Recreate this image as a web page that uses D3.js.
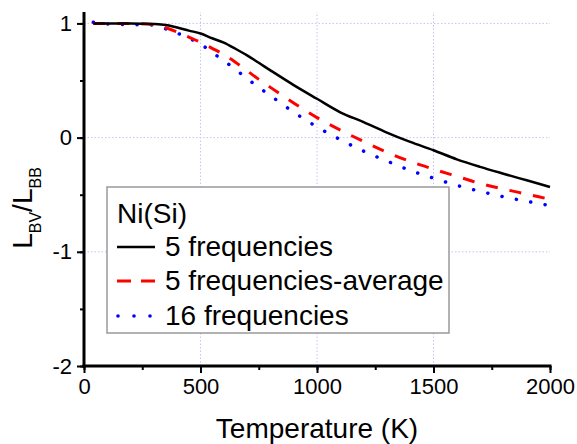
<!DOCTYPE html>
<html>
<head>
<meta charset="utf-8">
<script src="https://cdn.jsdelivr.net/npm/d3@7"></script>
<style>
  body { margin: 0; background: #fff; }
  svg { font-family: "Liberation Sans", Arial, sans-serif; }
</style>
</head>
<body>
<svg id="chart" width="577" height="444"></svg>
<script>
// temperature grid (K)
const temps = [40, 100, 200, 300, 350, 400, 450, 500, 550, 600, 650, 700, 750, 800,
  900, 1000, 1100, 1200, 1300, 1400, 1500, 1600, 1700, 1800, 1900, 2000];

const freq5 = [1.0, 1.0, 1.0, 0.995, 0.987, 0.965, 0.937, 0.912, 0.87, 0.832, 0.778, 0.72, 0.655, 0.589,
  0.46, 0.34, 0.222, 0.136, 0.044, -0.038, -0.111, -0.19, -0.256, -0.316, -0.374, -0.432];

const freq5avg = [1.0, 1.0, 1.0, 0.99, 0.962, 0.925, 0.88, 0.835, 0.782, 0.727, 0.66, 0.585, 0.51, 0.44,
  0.303, 0.175, 0.066, -0.034, -0.128, -0.209, -0.276, -0.339, -0.401, -0.45, -0.495, -0.54];

const freq16 = [1.01, 0.995, 0.99, 0.985, 0.952, 0.915, 0.871, 0.819, 0.746, 0.674, 0.597, 0.518, 0.44, 0.368,
  0.223, 0.094, -0.018, -0.119, -0.205, -0.287, -0.355, -0.418, -0.47, -0.518, -0.558, -0.595];

const xTicks = [0, 500, 1000, 1500, 2000];
const yTicks = [-2, -1, 0, 1];
const legendTitle = 'Ni(Si)';
const seriesNames = ['5 frequencies', '5 frequencies-average', '16 frequencies'];

const svg = d3.select('#chart');

const x = d3.scaleLinear().domain([0, 2000]).range([84, 550]);
const y = d3.scaleLinear().domain([-2, 1.1]).range([366, 12]);

// grid
const grid = svg.append('g')
  .attr('stroke', '#c4c4f2')
  .attr('stroke-width', 1)
  .attr('stroke-dasharray', '1.5 2');
grid.selectAll('.gx')
  .data([500, 1000, 1500])
  .enter()
  .append('line')
  .attr('x1', (d) => x(d)).attr('x2', (d) => x(d))
  .attr('y1', y(-2)).attr('y2', y(1.1));
grid.selectAll('.gy')
  .data([-1, 0, 1])
  .enter()
  .append('line')
  .attr('x1', x(0)).attr('x2', x(2000))
  .attr('y1', (d) => y(d)).attr('y2', (d) => y(d));

// curves
const series = [
  { values: freq5, color: '#000', width: 2.5, dash: null, cap: 'butt' },
  { values: freq5avg, color: '#ff0000', width: 3, dash: '12 12', cap: 'butt' },
  { values: freq16, color: '#0000ff', width: 3.5, dash: '0.1 14.5', cap: 'round' }
];

const line = d3.line()
  .x((d) => x(d[0]))
  .y((d) => y(d[1]))
  .curve(d3.curveMonotoneX);

series.slice().reverse().forEach((s) => {
  svg.append('path')
    .datum(temps.map((t, i) => [t, s.values[i]]))
    .attr('fill', 'none')
    .attr('stroke', s.color)
    .attr('stroke-width', s.width)
    .attr('stroke-dasharray', s.dash)
    .attr('stroke-linecap', s.cap)
    .attr('d', line);
});

// legend
const lg = svg.append('g');
lg.append('rect')
  .attr('x', 107).attr('y', 187)
  .attr('width', 342).attr('height', 146)
  .attr('fill', '#fff')
  .attr('stroke', '#999')
  .attr('stroke-width', 1.5);
lg.append('text')
  .attr('x', 117).attr('y', 223)
  .attr('font-size', 28)
  .text(legendTitle);
const rowY = [256, 290, 325];
series.forEach((s, i) => {
  const ly = rowY[i] - 9;
  if (i === 2) {
    lg.selectAll('.dot')
      .data([118, 134, 150])
      .enter()
      .append('circle')
      .attr('cx', (d) => d).attr('cy', ly)
      .attr('r', 1.8)
      .attr('fill', s.color);
  } else {
    lg.append('line')
      .attr('x1', 117).attr('x2', 155)
      .attr('y1', ly).attr('y2', ly)
      .attr('stroke', s.color)
      .attr('stroke-width', s.width)
      .attr('stroke-dasharray', i === 1 ? '14 10' : null);
  }
  lg.append('text')
    .attr('x', 165).attr('y', rowY[i])
    .attr('font-size', 28)
    .text(seriesNames[i]);
});

// axes
const fmt = (d) => String(d);
const xAxis = svg.append('g').attr('transform', `translate(0, ${y(-2)})`);
xAxis.call(d3.axisBottom(x).tickValues(d3.range(0, 2001, 250)).tickSize(4).tickFormat(''));
xAxis.call((g) => g.selectAll('.tick line').attr('stroke-width', 2));
xAxis.append('g').call(d3.axisBottom(x).tickValues(xTicks).tickSize(7).tickPadding(5).tickFormat(fmt))
  .call((g) => g.select('.domain').remove())
  .call((g) => g.selectAll('.tick line').attr('stroke-width', 2))
  .call((g) => g.selectAll('.tick text').attr('font-size', 22).attr('fill', '#000')
    .attr('font-family', '"Liberation Sans", Arial, sans-serif'));
xAxis.select('.domain').attr('stroke-width', 3).attr('d', `M${x(0) - 1.5},0H${x(2000) + 1.5}`);

const yAxis = svg.append('g').attr('transform', `translate(${x(0)}, 0)`);
yAxis.call(d3.axisLeft(y).tickValues(d3.range(-2, 1.01, 0.5)).tickSize(4).tickFormat(''));
yAxis.call((g) => g.selectAll('.tick line').attr('stroke-width', 2));
yAxis.append('g').call(d3.axisLeft(y).tickValues(yTicks).tickSize(7).tickPadding(5).tickFormat(fmt))
  .call((g) => g.select('.domain').remove())
  .call((g) => g.selectAll('.tick line').attr('stroke-width', 2))
  .call((g) => g.selectAll('.tick text').attr('font-size', 22).attr('fill', '#000')
    .attr('font-family', '"Liberation Sans", Arial, sans-serif'));
yAxis.select('.domain').attr('stroke-width', 3).attr('d', `M0,${y(1.1)}V${y(-2) + 1.5}`);

// axis titles
svg.append('text')
  .attr('x', (x(0) + x(2000)) / 2)
  .attr('y', 438)
  .attr('text-anchor', 'middle')
  .attr('font-size', 28)
  .text('Temperature (K)');

const yl = svg.append('text')
  .attr('transform', 'translate(32, 208) rotate(-90)')
  .attr('text-anchor', 'middle')
  .attr('font-size', 28);
yl.append('tspan').text('L');
yl.append('tspan').attr('font-size', 16).attr('dy', 9).text('BV');
yl.append('tspan').attr('dy', -9).text('/L');
yl.append('tspan').attr('font-size', 16).attr('dy', 9).text('BB');
</script>
</body>
</html>
